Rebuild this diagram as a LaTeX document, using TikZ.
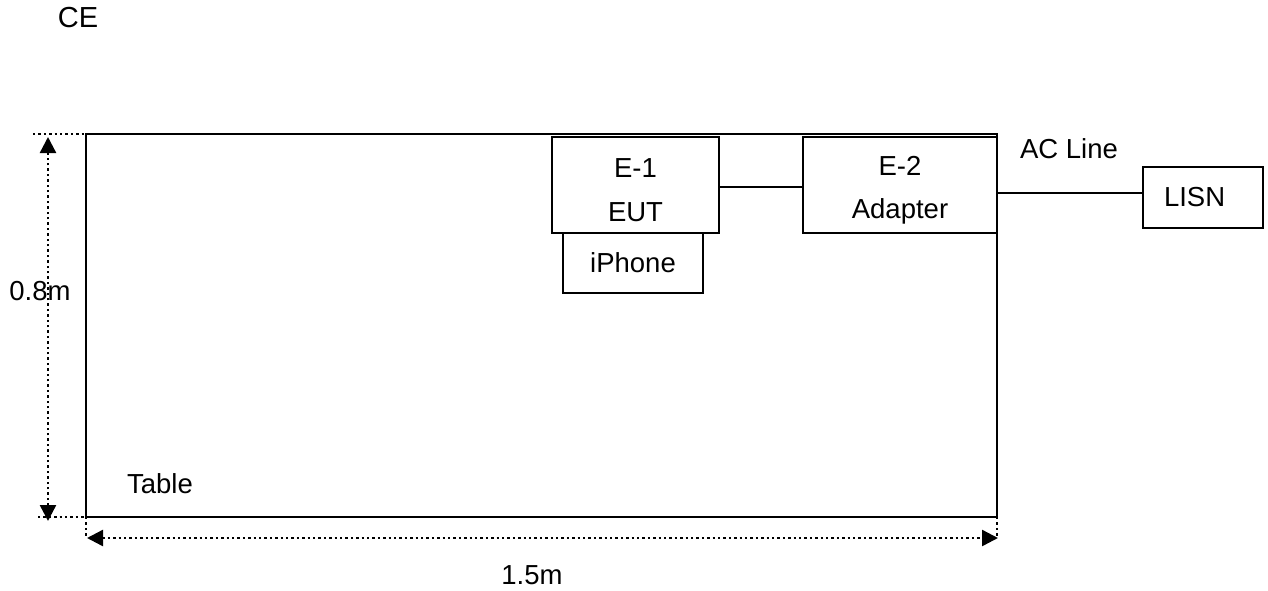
\documentclass[tikz,border=0pt]{standalone}
\usepackage{fontspec}
\setmainfont{Liberation Sans}
\usetikzlibrary{arrows.meta,positioning}

\begin{document}
\begin{tikzpicture}[x=1pt, y=-1pt,
    box/.style={rectangle, draw, line width=2pt, inner sep=0pt, align=center, font=\fontsize{27.5}{43.5}\selectfont},
    txt/.style={inner sep=0pt, font=\fontsize{27.5}{33}\selectfont},
    wire/.style={line width=1.6pt},
    dimline/.style={line width=2.4pt, dash pattern=on 2.4pt off 3pt},
    dimarrow/.style={dimline, {Triangle[length=16pt,width=16pt]}-{Triangle[length=16pt,width=16pt]}}
]
    \useasboundingbox (0,0) rectangle (1268,591);

    \node[box, minimum width=911pt, minimum height=383pt] (table) at (541.5,325.5) {};
    \node[box, fill=white, text depth=0pt, minimum width=140pt, minimum height=60pt] (iphone) at (633,263) {iPhone};
    \node[box, fill=white, minimum width=167pt, minimum height=96pt] (eut) at (635.5,185) {\rule{0pt}{29.7pt}E-1\\EUT};
    \node[box, minimum width=194pt, minimum height=96pt] (adapter) at (900,185) {\rule{0pt}{29.7pt}E-2\\Adapter};
    \node[box, align=left, text width=78pt, inner xsep=21pt, minimum height=61pt] (lisn) at (1203,197.5) {LISN};

    \draw[wire] ([yshift=-2pt]eut.east) -- ([yshift=-2pt]eut.east -| adapter.west);
    \draw[wire] ([yshift=4.5pt]lisn.west) -- ([yshift=4.5pt]lisn.west -| adapter.east);

    \node[txt, font=\fontsize{29}{33}\selectfont] (ce) at (78,18) {CE};
    \node[txt] (acline) at (1069,148.5) {AC Line};
    \node[txt] (tablelbl) at (160,483.5) {Table};

    \coordinate (htop) at (48,137);
    \coordinate (hbot) at (48,521);
    \coordinate (wleft) at (87,538);
    \coordinate (wright) at (998,538);

    \draw[dimline] (33,134) -- (103,134);
    \draw[dimline] (38,517) -- (108,517);
    \draw[dimline] (86,517) -- (86,538);
    \draw[dimline] (997,517) -- (997,538);
    \draw[dimarrow] (hbot) -- (htop);
    \draw[dimarrow] (wleft) -- (wright);

    \node[txt] (height) at (40,291.5) {0.8m};
    \node[txt] (width) at (532,575) {1.5m};
\end{tikzpicture}
\end{document}
